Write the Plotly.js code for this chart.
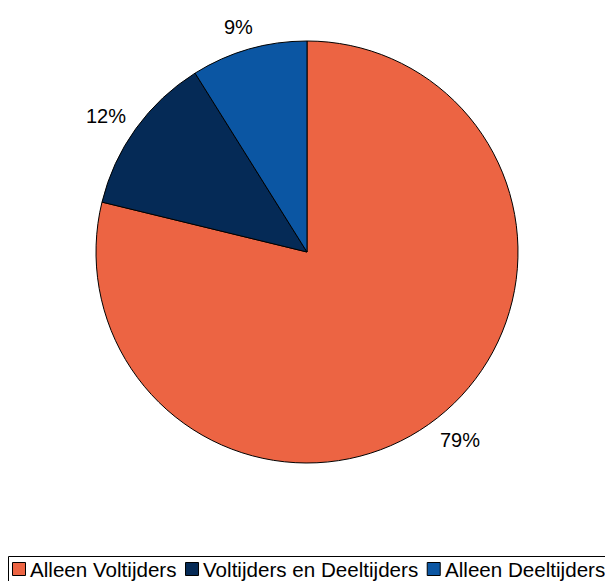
<!DOCTYPE html>
<html><head><meta charset="utf-8">
<script src="https://cdn.plot.ly/plotly-3.0.1.min.js"></script>
<style>body{margin:0;padding:0;background:#fff}</style>
</head><body>
<div id="chart" style="width:605px;height:581px"></div>
<script>
const categories = ["Alleen Voltijders", "Voltijders en Deeltijders", "Alleen Deeltijders"];
const shares = [78.8, 12.3, 8.9];
const colors = ["#EC6443", "#052A56", "#0B56A3"];

const W = 605, H = 581;
const FONT = "Liberation Sans, Arial, Helvetica, sans-serif";
// pie geometry (pixels)
const cx = 307, cy = 252, R = 211;
const labelRx = 248, labelRy = 236;
const LEGEND_SIZE = 20.6;

// percentage labels placed at each slice's mid-angle, computed from the data
const total = shares.reduce((a, b) => a + b, 0);
const annotations = [];
let cum = 0;
shares.forEach((v, i) => {
  const mid = (cum + v / 2) / total * 2 * Math.PI;
  cum += v;
  const px = cx + labelRx * Math.sin(mid);
  const py = cy - labelRy * Math.cos(mid) + 2;
  annotations.push({
    xref: "paper", yref: "paper", x: px / W, y: 1 - py / H,
    xanchor: "center", yanchor: "middle", showarrow: false,
    text: Math.round(v / total * 100) + "%",
    font: {family: FONT, size: 20, color: "#000"}
  });
});

// custom legend row (flowing from measured text widths)
const shapes = [{
  type: "rect", xref: "paper", yref: "paper",
  x0: 8.5 / W, x1: 620 / W, y0: 1 - 556.5 / H, y1: 1 - 600 / H,
  line: {color: "#000", width: 1}, fillcolor: "rgba(0,0,0,0)", layer: "above"
}];
const ctx = document.createElement("canvas").getContext("2d");
ctx.font = LEGEND_SIZE + "px 'Liberation Sans'";
let lx = 12.5;
const ly = 569;
categories.forEach((c, i) => {
  shapes.push({
    type: "rect", xref: "paper", yref: "paper",
    x0: lx / W, x1: (lx + 13) / W, y0: 1 - (ly - 6.5) / H, y1: 1 - (ly + 6.5) / H,
    fillcolor: colors[i], line: {color: "#000", width: 1}, layer: "above"
  });
  const tx = lx + 16.5;
  annotations.push({
    xref: "paper", yref: "paper", x: tx / W, y: 1 - ly / H,
    xanchor: "left", yanchor: "middle", showarrow: false,
    text: c, borderpad: 0, font: {family: FONT, size: LEGEND_SIZE, color: "#000"}
  });
  lx = tx + ctx.measureText(c).width + 10;
});

Plotly.newPlot("chart", [{
  type: "pie",
  labels: categories,
  values: shares,
  sort: false,
  direction: "clockwise",
  rotation: 0,
  marker: {colors: colors, line: {color: "#000", width: 1}},
  textinfo: "none",
  domain: {x: [(cx - R) / W, (cx + R) / W], y: [1 - (cy + R) / H, 1 - (cy - R) / H]},
  hoverinfo: "none"
}], {
  width: W, height: H,
  margin: {l: 0, r: 0, t: 0, b: 0},
  paper_bgcolor: "#fff",
  font: {family: FONT, size: 20, color: "#000"},
  showlegend: false,
  annotations: annotations,
  shapes: shapes
}, {displayModeBar: false});
</script>
</body></html>
